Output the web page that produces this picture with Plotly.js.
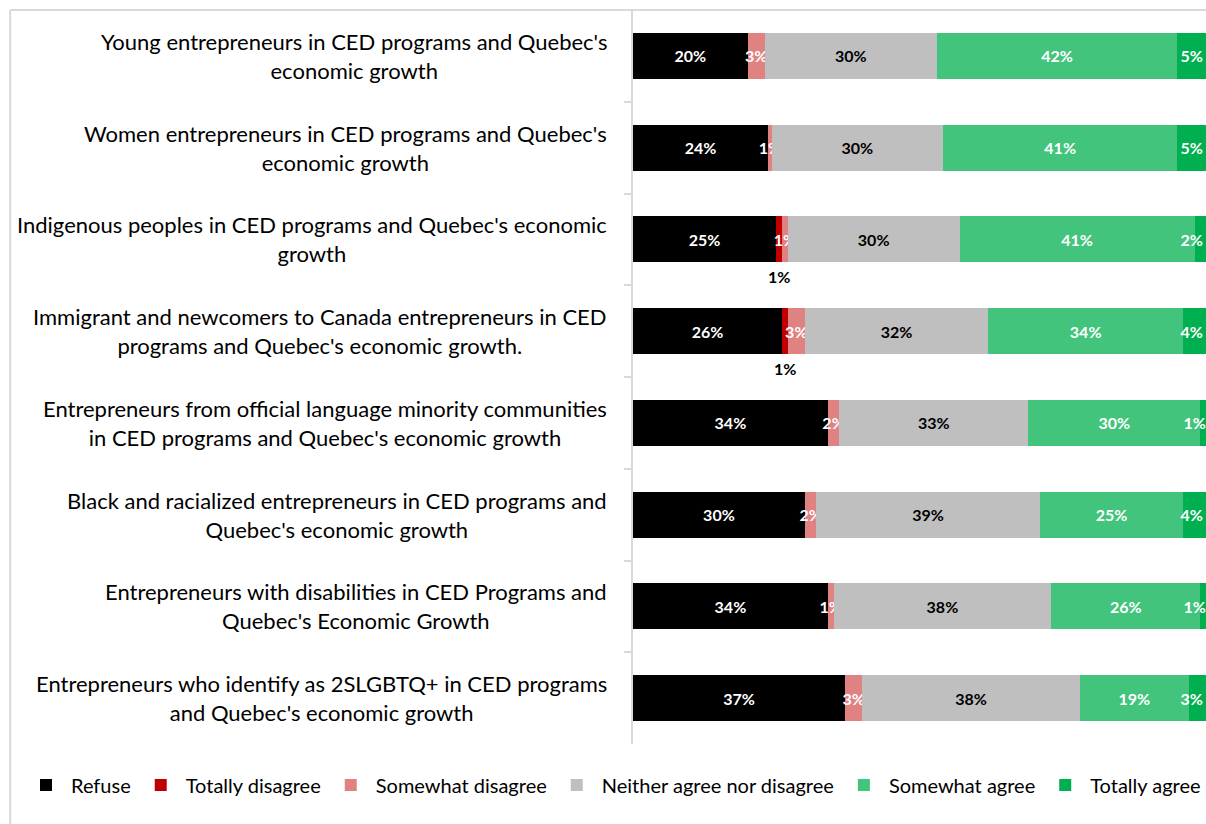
<!DOCTYPE html>
<html>
<head>
<meta charset="utf-8">
<script src="https://cdn.plot.ly/plotly-3.0.1.min.js"></script>
<style>
  body { margin: 0; background: #fff; }
  #chart { width: 1206px; height: 824px; }
</style>
</head>
<body>
<div id="chart"></div>
<script>
// categories, top to bottom
var groups = [
  "Young entrepreneurs in CED programs and Quebec's<br>economic growth",
  "Women entrepreneurs in CED programs and Quebec's<br>economic growth",
  "Indigenous peoples in CED programs and Quebec's economic<br>growth",
  "Immigrant and newcomers to Canada entrepreneurs in CED<br>programs and Quebec's economic growth.",
  "Entrepreneurs from official language minority communities<br>in CED programs and Quebec's economic growth",
  "Black and racialized entrepreneurs in CED programs and<br>Quebec's economic growth",
  "Entrepreneurs with disabilities in CED Programs and<br>Quebec's Economic Growth",
  "Entrepreneurs who identify as 2SLGBTQ+ in CED programs<br>and Quebec's economic growth"
];

// percentages per answer (labels show them rounded)
var refuse           = [20, 23.6, 25, 26, 34, 30, 34, 37];
var totallyDisagree  = [0, 0, 1, 1, 0, 0, 0, 0];
var somewhatDisagree = [3, 0.6, 1, 3, 2, 2, 1, 3];
var neither          = [30, 29.9, 30, 32, 33, 39, 38, 38];
var somewhatAgree    = [42, 40.9, 41, 34, 30, 25, 26, 19];
var totallyAgree     = [5, 5, 2, 4, 1, 4, 1, 3];

var FONT = 'Lato, "Noto Sans", sans-serif';

function pct(arr) {
  return arr.map(function (v) { return v > 0 ? Math.round(v) + '%' : ''; });
}

function series(name, vals, color, textColor, showText, anchor) {
  return {
    type: 'bar',
    orientation: 'h',
    name: name,
    y: groups,
    x: vals,
    marker: { color: color },
    text: showText ? pct(vals) : vals.map(function () { return ''; }),
    textposition: 'inside',
    insidetextanchor: anchor || 'middle',
    textangle: 0,
    constraintext: 'none',
    cliponaxis: false,
    textfont: { family: FONT, size: 16, color: textColor, weight: 'bold' },
    hoverinfo: 'x+name'
  };
}

var data = [
  series('Refuse', refuse, '#000000', '#ffffff', true),
  series('Totally disagree', totallyDisagree, '#c00000', '#000000', false),
  series('Somewhat disagree', somewhatDisagree, '#e08282', '#ffffff', true),
  series('Neither agree nor disagree', neither, '#bfbfbf', '#000000', true),
  series('Somewhat agree', somewhatAgree, '#43c47d', '#ffffff', true),
  series('Totally agree', totallyAgree, '#00b050', '#ffffff', true, 'end')
];

var annotations = [];
// category labels, centred text, right edge next to the axis
groups.forEach(function (g) {
  annotations.push({
    xref: 'paper', yref: 'y', x: -0.042, y: g,
    xanchor: 'right', yanchor: 'middle', align: 'center',
    text: g, showarrow: false,
    font: { family: FONT, size: 22, color: '#000000' }
  });
});
// "Totally disagree" labels sit under the bar
groups.forEach(function (g, i) {
  if (totallyDisagree[i] > 0) {
    annotations.push({
      xref: 'x', yref: 'y', x: refuse[i] + totallyDisagree[i] / 2, y: g,
      yshift: -37, showarrow: false,
      text: Math.round(totallyDisagree[i]) + '%',
      font: { family: FONT, size: 16, color: '#000000', weight: 'bold' }
    });
  }
});

var layout = {
  width: 1206,
  height: 824,
  margin: { l: 633, r: 0, t: 10, b: 80 },
  paper_bgcolor: '#ffffff',
  plot_bgcolor: '#ffffff',
  barmode: 'stack',
  bargap: 0.5,
  showlegend: true,
  legend: {
    orientation: 'h',
    x: -1.048, xanchor: 'left',
    y: -0.056, yanchor: 'middle',
    itemwidth: 40,
    font: { family: FONT, size: 20, color: '#000000' },
    traceorder: 'normal'
  },
  xaxis: {
    range: [0, 100],
    showgrid: false,
    zeroline: false,
    showticklabels: false,
    showline: false,
    fixedrange: true
  },
  yaxis: {
    autorange: 'reversed',
    showticklabels: false,
    showgrid: false,
    showline: true,
    linecolor: '#d9d9d9',
    linewidth: 2,
    ticks: 'outside',
    tickson: 'boundaries',
    ticklen: 7,
    tickcolor: '#d9d9d9',
    tickwidth: 2,
    fixedrange: true
  },
  annotations: annotations,
  shapes: [
    { type: 'line', xref: 'paper', yref: 'paper', x0: -1.087, x1: 1.05, y0: 1, y1: 1,
      line: { color: '#d9d9d9', width: 2 } },
    { type: 'line', xref: 'paper', yref: 'paper', x0: -1.087, x1: -1.087, y0: 1, y1: -0.2,
      line: { color: '#d9d9d9', width: 2 } }
  ]
};

Plotly.newPlot('chart', data, layout, { displayModeBar: false, staticPlot: true });
</script>
</body>
</html>
